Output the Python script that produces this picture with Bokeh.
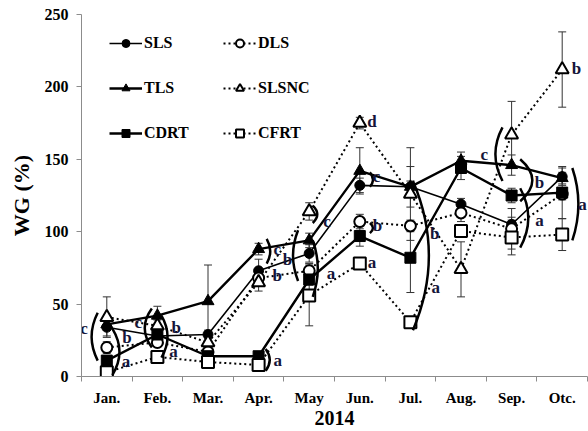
from bokeh.plotting import figure
from bokeh.models import FixedTicker, Legend, LegendItem, Range1d
from bokeh.core.properties import value
from bokeh.embed import file_html
from bokeh.resources import INLINE

# Monthly weight gain (WG, %) per treatment, 2014
months = ["Jan.", "Feb.", "Mar.", "Apr.", "May", "Jun.", "Jul.", "Aug.", "Sep.", "Otc."]

sls = [34, 28, 29, 73, 85, 132, 131, 119, 105, 138]
sls_err = [6, 3, 3, 8, 6, 5, 14, 4, 5, 6]
dls = [20, 23.5, 17, 68, 73, 107, 104, 113, 102, 126]
dls_err = [4, 3, 3, 5, 5, 5, 4, 6, 14, 4]
tls = [36, 42, 52, 88, 94, 142, 131, 149, 146, 137]
tls_err = [4, 6.5, 25, 4, 5, 16, 4, 6, 7, 4]
slsnc = [41, 35, 23.5, 65, 114, 175, 126, 74, 167, 212]
slsnc_err = [14, 4, 3, 6, 6, 4, 32, 19, 23, 26]
cdrt = [11, 29, 14, 14, 67, 97, 82, 144, 125, 127]
cdrt_err = [3, 3, 2, 2, 4, 7, 24, 8, 5, 18]
cfrt = [3, 13.5, 10, 8, 56, 78, 37.5, 100.5, 96, 98]
cfrt_err = [2, 2, 2, 2, 21, 3, 3, 4, 12, 11]

# significance letters: (month index, x shift in category units, WG level, letter)
letters = [
    (0, -0.45, 33, "c"), (0, 0.40, 27, "b"), (0, 0.38, 10.5, "a"),
    (1, -0.38, 37.5, "c"), (1, 0.37, 34, "b"), (1, 0.32, 17, "a"),
    (3, 0.37, 88, "c"), (3, 0.57, 81, "b"), (3, 0.37, 70, "b"), (3, 0.38, 11, "a"),
    (4, 0.35, 107, "c"), (4, 0.43, 71, "a"),
    (5, 0.24, 176, "d"), (5, 0.33, 138, "c"), (5, 0.35, 104, "b"), (5, 0.24, 78.5, "a"),
    (6, 0.48, 98.5, "b"), (6, 0.50, 61.5, "a"),
    (8, -0.54, 153, "c"), (8, 0.55, 134, "b"), (8, 0.55, 107.5, "a"),
    (9, 0.28, 212.5, "b"), (9, 0.40, 119, "a"),
]

# grouping brackets: (month index, end shift, control shift, upper WG, lower WG)
brackets = [
    (0, -0.18, -0.42, 44, 11), (0, 0.11, 0.39, 33, 1),
    (1, -0.11, -0.39, 47, 20), (1, 0.08, 0.32, 42, 13),
    (3, 0.14, 0.30, 19, 4), (3, 0.16, 0.30, 95, 78),
    (4, -0.22, -0.42, 101, 66), (4, 0.07, 0.25, 118, 106), (4, 0.07, 0.27, 94, 55),
    (5, 0.20, 0.32, 141, 131), (5, 0.20, 0.32, 106, 99),
    (6, 0.05, 0.68, 135, 32),
    (8, -0.18, -0.46, 172, 135), (8, 0.17, 0.65, 150, 121), (8, 0.17, 0.49, 130, 89),
    (9, 0.20, 0.44, 144, 94),
]

FONT = "Liberation Serif"
x = list(range(len(months)))

p = figure(width=588, height=431, x_range=Range1d(-0.5, 9.5), y_range=Range1d(0, 250),
           output_backend="svg", toolbar_location=None,
           min_border_left=81, min_border_right=1, min_border_top=14, min_border_bottom=55)
p.outline_line_color = None
p.xgrid.visible = False
p.ygrid.visible = False

axis_col = "#8c8c8c"
for ax in (p.xaxis[0], p.yaxis[0]):
    ax.axis_line_color = axis_col
    ax.major_tick_line_color = axis_col
    ax.minor_tick_line_color = axis_col
    ax.major_label_text_font = FONT
    ax.major_label_text_font_style = "bold"
    ax.major_label_text_font_size = "15px"
    ax.major_label_text_color = "black"
    ax.axis_label_text_font = FONT
    ax.axis_label_text_font_style = "bold"
    ax.axis_label_text_color = "black"

xa = p.xaxis[0]
xa.ticker = FixedTicker(ticks=x, minor_ticks=[i - 0.5 for i in range(len(months) + 1)])
xa.major_label_overrides = {i: m for i, m in enumerate(months)}
xa.major_tick_out = 0
xa.major_tick_in = 0
xa.minor_tick_out = 5
xa.minor_tick_in = 0
xa.major_label_standoff = 8
xa.axis_label = "2014"
xa.axis_label_text_font_size = "20px"
xa.axis_label_standoff = 2

ya = p.yaxis[0]
ya.ticker = FixedTicker(ticks=[0, 50, 100, 150, 200, 250])
ya.minor_tick_out = 0
ya.minor_tick_in = 0
ya.major_tick_out = 5
ya.major_tick_in = 0
ya.major_label_standoff = 8
ya.major_label_text_font_size = "16px"
ya.axis_label = "WG (%)"
ya.axis_label_text_font_size = "22px"
ya.axis_label_standoff = 8

series = [
    ("SLS", sls, sls_err, "circle", "black", 1.6, "solid", 10),
    ("DLS", dls, dls_err, "circle", "white", 2.0, "dotted", 11),
    ("TLS", tls, tls_err, "triangle", "black", 2.4, "solid", 12),
    ("SLSNC", slsnc, slsnc_err, "triangle", "white", 2.0, "dotted", 13),
    ("CDRT", cdrt, cdrt_err, "square", "black", 2.4, "solid", 11),
    ("CFRT", cfrt, cfrt_err, "square", "white", 2.0, "dotted", 12),
]

# error bars underneath everything else
for name, ys, err, *_ in series:
    lo = [v - e for v, e in zip(ys, err)]
    hi = [v + e for v, e in zip(ys, err)]
    p.segment(x0=x, y0=lo, x1=x, y1=hi, line_color="#333333", line_width=1)
    p.scatter(x=x + x, y=lo + hi, marker="dash", size=8, line_color="#333333", line_width=1)

line_r = {}
for name, ys, err, marker, fill, lw, style, size in series:
    dash = "solid" if style == "solid" else "2 3"
    line_r[name] = p.line(x=x, y=ys, line_color="black", line_width=lw, line_dash=dash)

mark_r = {}
for name, ys, err, marker, fill, lw, style, size in series:
    mark_r[name] = p.scatter(x=x, y=ys, marker=marker, size=size, fill_color=fill,
                             line_color="black", line_width=2 if fill == "white" else 1)

# brackets drawn as quadratic curves
for mi, end, ctrl, top, bot in brackets:
    p.quadratic(x0=mi + end, y0=top, x1=mi + end, y1=bot, cx=mi + ctrl, cy=(top + bot) / 2,
                line_color="black", line_width=2.5)

p.text(x=[m + dx for m, dx, _, _ in letters], y=[v for _, _, v, _ in letters],
       text=[t for _, _, _, t in letters], text_font=value(FONT), text_font_style="bold",
       text_font_size="17px", text_color="#15153a", text_align="center", text_baseline="middle")

items = []
for name, *_ in series:
    items.append(LegendItem(label=name, renderers=[line_r[name], mark_r[name]]))

legend = Legend(items=items, ncols=2, orientation="horizontal", location=(28, 233),
                glyph_width=33, glyph_height=20, label_height=20, label_width=54,
                label_standoff=2, spacing=25, padding=0, margin=0,
                border_line_color=None, background_fill_alpha=0,
                label_text_font=FONT, label_text_font_style="bold",
                label_text_font_size="16px", label_text_color="black")
p.add_layout(legend)

open("out.html", "w").write(file_html(p, INLINE))
